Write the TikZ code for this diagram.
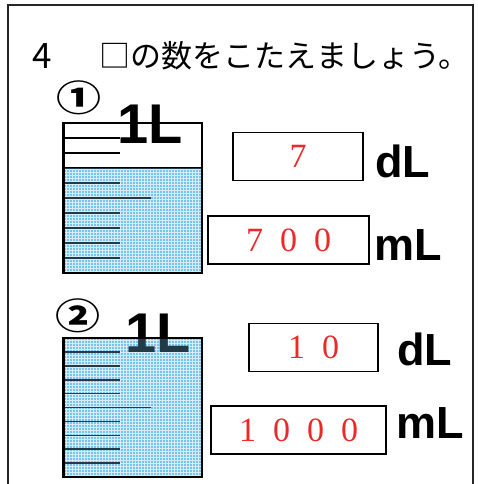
\documentclass[tikz,border=0pt]{standalone}
\usepackage{fontspec}
\setmainfont{Liberation Serif}
\newfontfamily\jpfont{Noto Sans CJK JP}
\newfontfamily\circfont{Noto Sans CJK JP}[FakeStretch=1.25]
\newfontfamily\unitfont{Liberation Sans}
\newfontfamily\ansfont{Liberation Serif}
\usetikzlibrary{patterns}
\definecolor{water}{RGB}{118,196,238}
\definecolor{answer}{RGB}{236,40,40}
\tikzset{
  frame/.style={line width=1.6pt, black!85},
  title/.style={inner sep=0pt, font=\jpfont\fontsize{31}{31}\selectfont},
  circnum/.style={inner sep=0pt, font=\circfont\bfseries\fontsize{36}{36}\selectfont},
  litre/.style={anchor=base west, inner sep=0pt, font=\unitfont\bfseries\fontsize{56}{56}\selectfont},
  unitlabel/.style={anchor=base west, inner sep=0pt, font=\unitfont\bfseries\fontsize{45}{45}\selectfont},
  ansbox/.style={draw, line width=1.3pt, inner sep=0pt, minimum height=48pt,
    text=answer, font=\ansfont\fontsize{34}{34}\selectfont},
  beaker/.style={line width=2pt},
  tick/.style={line width=1.6pt},
  dots/.style={pattern=grid, pattern color=white, fill opacity=0.7},
}
\begin{document}
\begin{tikzpicture}[x=1pt,y=-1pt]
  \useasboundingbox (0,0) rectangle (477,484);
  %\draw [help lines, step=20] (0,0) grid (477,484);

  %frame
  \draw [frame] (8,488) to (8,5) to (473,5) to (473,488);

  %title
  \node [title, anchor=base west, font=\jpfont\fontsize{35}{35}\selectfont] (qnum) at (32,69) {4};
  \node [title, anchor=base west] (qtext) at (99,68) {□の数をこたえましょう。};

  %beaker 1
  \node [circnum] (circ1) at (79,97.5) {①};
  \fill [water] (63,168) rectangle (202,273);
  \fill [dots] (63,168) rectangle (202,273);
  \foreach \k in {1,2,3,4,6,7,8,9}
    \draw [tick] (65,{273-15*\k}) to (120,{273-15*\k});
  \draw [tick] (65,198) to (151,198);
  \draw [tick] (63,168) to (202,168);
  \fill [water, fill opacity=0.3] (63,168) rectangle (202,273);
  \draw [beaker] (63,123) rectangle (202,273);
  \draw [line width=3pt] (63,123) to (63,273);
  \node [litre] (litre1) at (117,143) {1L};

  %answers 1
  \node [ansbox, minimum width=130pt] (dl1) at (298,156.5) {7};
  \node [unitlabel] (dlunit1) at (375,177) {dL};
  \node [ansbox, minimum width=161pt] (ml1) at (288.5,240) {7\enspace0\enspace0};
  \node [unitlabel] (mlunit1) at (374,260) {mL};

  %beaker 2
  \node [circnum] (circ2) at (77.5,316) {②};
  \fill [water] (63,338) rectangle (202,477);
  \fill [dots] (63,338) rectangle (202,477);
  \foreach \k in {1,2,3,4,6,7,8,9}
    \draw [tick] (65,{477-13.9*\k}) to (120,{477-13.9*\k});
  \draw [tick] (65,407.5) to (151,407.5);
  \node [litre] (litre2) at (125,352) {1L};
  \fill [water, fill opacity=0.3] (63,338) rectangle (202,477);
  \draw [beaker] (63,338) rectangle (202,477);
  \draw [line width=3pt] (63,338) to (63,477);

  %answers 2
  \node [ansbox, minimum width=129pt] (dl2) at (313.5,347.5) {1\enspace0};
  \node [unitlabel] (dlunit2) at (397,365) {dL};
  \node [ansbox, minimum width=175pt] (ml2) at (298.5,430) {1\enspace0\enspace0\enspace0};
  \node [unitlabel] (mlunit2) at (396,438) {mL};
\end{tikzpicture}
\end{document}
